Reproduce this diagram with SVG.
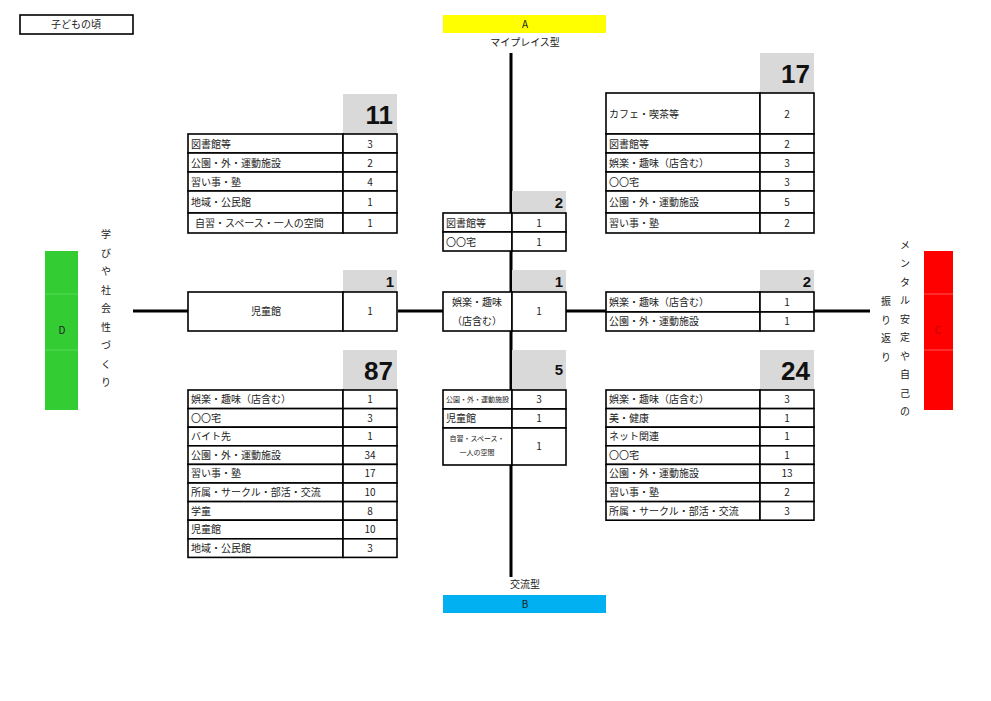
<svg xmlns="http://www.w3.org/2000/svg" width="991" height="701" viewBox="0 0 991 701">
<style>
text{font-family:"Noto Sans CJK JP",sans-serif;font-size:10px;fill:#222}
.c{text-anchor:middle}
.big{font-family:"Liberation Sans",sans-serif;font-weight:bold;font-size:26px;text-anchor:end;fill:#111}
.mid{font-family:"Liberation Sans",sans-serif;font-weight:bold;font-size:15px;text-anchor:end;fill:#111}
.hd{fill:#d9d9d9}
.cell{fill:#fff;stroke:#000;stroke-width:1.6}
.ax{stroke:#000;stroke-width:3;fill:none}
.sm{font-size:7px}
</style>
<rect width="991" height="701" fill="#fff"/>
<g id="title"><rect x="20" y="15" width="113" height="19" fill="#fff" stroke="#000" stroke-width="1.6"/><text x="76" y="28" class="c">子どもの頃</text></g>
<g id="connectors">
<line class="ax" x1="511" y1="53" x2="511" y2="577"/>
<line class="ax" x1="133" y1="311" x2="188" y2="311"/>
<line class="ax" x1="398" y1="311" x2="443" y2="311"/>
<line class="ax" x1="566" y1="311" x2="606" y2="311"/>
<line class="ax" x1="814" y1="311" x2="870" y2="311"/>
</g>
<g id="A"><rect x="443" y="15" width="163" height="18" fill="#ffff00"/><text x="525" y="28" class="c">A</text><text x="525" y="46" class="c">マイプレイス型</text></g>
<g id="B"><text x="525" y="588" class="c">交流型</text><rect x="443" y="595" width="163" height="18" fill="#00b0f0"/><text x="525" y="608" class="c">B</text></g>
<g id="D"><rect x="45" y="251" width="33" height="159" fill="#33cc33"/><line x1="45" y1="294" x2="78" y2="294" stroke="#5d5" stroke-width="1"/><line x1="45" y1="350" x2="78" y2="350" stroke="#5d5" stroke-width="1"/><text x="62" y="334" class="c">D</text>
<g class="c"><text x="106" y="238" class="c">学</text><text x="106" y="257" class="c">び</text><text x="106" y="275" class="c">や</text><text x="106" y="294" class="c">社</text><text x="106" y="312" class="c">会</text><text x="106" y="331" class="c">性</text><text x="106" y="349" class="c">づ</text><text x="106" y="368" class="c">く</text><text x="106" y="386" class="c">り</text></g></g>
<g id="C"><rect x="924" y="251" width="29" height="159" fill="#ff0000"/><line x1="924" y1="294" x2="953" y2="294" stroke="#f55" stroke-width="1"/><line x1="924" y1="350" x2="953" y2="350" stroke="#f55" stroke-width="1"/><text x="938" y="334" class="c" style="fill:#c00000">C</text>
<text x="905" y="249" class="c">メ</text><text x="905" y="267" class="c">ン</text><text x="905" y="286" class="c">タ</text><text x="905" y="304" class="c">ル</text><text x="905" y="323" class="c">安</text><text x="905" y="341" class="c">定</text><text x="905" y="360" class="c">や</text><text x="905" y="378" class="c">自</text><text x="905" y="397" class="c">己</text><text x="905" y="415" class="c">の</text>
<text x="886" y="305" class="c">振</text><text x="886" y="324" class="c">り</text><text x="886" y="342" class="c">返</text><text x="886" y="361" class="c">り</text></g>

<g id="t11">
<rect class="hd" x="343" y="94" width="54" height="40"/><text class="big" x="393" y="124">11</text>
<rect class="cell" x="188" y="134" width="155" height="19"/><rect class="cell" x="343" y="134" width="54" height="19"/><text x="191" y="148">図書館等</text><text x="370" y="148" class="c">3</text>
<rect class="cell" x="188" y="153" width="155" height="19"/><rect class="cell" x="343" y="153" width="54" height="19"/><text x="191" y="167">公園・外・運動施設</text><text x="370" y="167" class="c">2</text>
<rect class="cell" x="188" y="172" width="155" height="19"/><rect class="cell" x="343" y="172" width="54" height="19"/><text x="191" y="186">習い事・塾</text><text x="370" y="186" class="c">4</text>
<rect class="cell" x="188" y="191" width="155" height="22"/><rect class="cell" x="343" y="191" width="54" height="22"/><text x="191" y="206">地域・公民館</text><text x="370" y="206" class="c">1</text>
<rect class="cell" x="188" y="213" width="155" height="20"/><rect class="cell" x="343" y="213" width="54" height="20"/><text x="195" y="227">自習・スペース・一人の空間</text><text x="370" y="227" class="c">1</text>
</g>

<g id="t17">
<rect class="hd" x="760" y="53" width="54" height="40"/><text class="big" x="810" y="83">17</text>
<rect class="cell" x="606" y="93" width="154" height="41"/><rect class="cell" x="760" y="93" width="54" height="41"/><text x="609" y="118">カフェ・喫茶等</text><text x="787" y="118" class="c">2</text>
<rect class="cell" x="606" y="134" width="154" height="19"/><rect class="cell" x="760" y="134" width="54" height="19"/><text x="609" y="148">図書館等</text><text x="787" y="148" class="c">2</text>
<rect class="cell" x="606" y="153" width="154" height="19"/><rect class="cell" x="760" y="153" width="54" height="19"/><text x="609" y="167">娯楽・趣味（店含む）</text><text x="787" y="167" class="c">3</text>
<rect class="cell" x="606" y="172" width="154" height="19"/><rect class="cell" x="760" y="172" width="54" height="19"/><text x="609" y="186">〇〇宅</text><text x="787" y="186" class="c">3</text>
<rect class="cell" x="606" y="191" width="154" height="22"/><rect class="cell" x="760" y="191" width="54" height="22"/><text x="609" y="206">公園・外・運動施設</text><text x="787" y="206" class="c">5</text>
<rect class="cell" x="606" y="213" width="154" height="20"/><rect class="cell" x="760" y="213" width="54" height="20"/><text x="609" y="227">習い事・塾</text><text x="787" y="227" class="c">2</text>
</g>

<g id="t2top">
<rect class="hd" x="512" y="191" width="54" height="22"/><text class="mid" x="563" y="208">2</text>
<rect class="cell" x="443" y="213" width="69" height="19"/><rect class="cell" x="512" y="213" width="54" height="19"/><text x="446" y="227">図書館等</text><text x="539" y="227" class="c">1</text>
<rect class="cell" x="443" y="232" width="69" height="19"/><rect class="cell" x="512" y="232" width="54" height="19"/><text x="446" y="246">〇〇宅</text><text x="539" y="246" class="c">1</text>
</g>

<g id="t1left">
<rect class="hd" x="343" y="270" width="54" height="22"/><text class="mid" x="394" y="287">1</text>
<rect class="cell" x="188" y="292" width="155" height="39"/><rect class="cell" x="343" y="292" width="54" height="39"/><text x="266" y="315" class="c">児童館</text><text x="370" y="315" class="c">1</text>
</g>
<g id="t1center">
<rect class="hd" x="512" y="270" width="54" height="22"/><text class="mid" x="563" y="287">1</text>
<rect class="cell" x="443" y="292" width="69" height="39"/><rect class="cell" x="512" y="292" width="54" height="39"/><text x="477" y="306" class="c">娯楽・趣味</text><text x="477" y="325" class="c">（店含む）</text><text x="539" y="315" class="c">1</text>
</g>
<g id="t2right">
<rect class="hd" x="760" y="270" width="54" height="22"/><text class="mid" x="811" y="287">2</text>
<rect class="cell" x="606" y="292" width="154" height="20"/><rect class="cell" x="760" y="292" width="54" height="20"/><text x="609" y="306">娯楽・趣味（店含む）</text><text x="787" y="306" class="c">1</text>
<rect class="cell" x="606" y="312" width="154" height="19"/><rect class="cell" x="760" y="312" width="54" height="19"/><text x="609" y="325">公園・外・運動施設</text><text x="787" y="325" class="c">1</text>
</g>

<g id="t87">
<rect class="hd" x="343" y="350" width="54" height="40"/><text class="big" x="393" y="380">87</text>
<rect class="cell" x="188" y="390" width="155" height="18.6"/><rect class="cell" x="343" y="390" width="54" height="18.6"/><text x="191" y="403">娯楽・趣味（店含む）</text><text x="370" y="403" class="c">1</text>
<rect class="cell" x="188" y="408.6" width="155" height="18.6"/><rect class="cell" x="343" y="408.6" width="54" height="18.6"/><text x="191" y="422">〇〇宅</text><text x="370" y="422" class="c">3</text>
<rect class="cell" x="188" y="427.2" width="155" height="18.6"/><rect class="cell" x="343" y="427.2" width="54" height="18.6"/><text x="191" y="440">バイト先</text><text x="370" y="440" class="c">1</text>
<rect class="cell" x="188" y="445.8" width="155" height="18.6"/><rect class="cell" x="343" y="445.8" width="54" height="18.6"/><text x="191" y="459">公園・外・運動施設</text><text x="370" y="459" class="c">34</text>
<rect class="cell" x="188" y="464.4" width="155" height="18.6"/><rect class="cell" x="343" y="464.4" width="54" height="18.6"/><text x="191" y="477">習い事・塾</text><text x="370" y="477" class="c">17</text>
<rect class="cell" x="188" y="483" width="155" height="18.6"/><rect class="cell" x="343" y="483" width="54" height="18.6"/><text x="191" y="496">所属・サークル・部活・交流</text><text x="370" y="496" class="c">10</text>
<rect class="cell" x="188" y="501.6" width="155" height="18.6"/><rect class="cell" x="343" y="501.6" width="54" height="18.6"/><text x="191" y="515">学童</text><text x="370" y="515" class="c">8</text>
<rect class="cell" x="188" y="520.2" width="155" height="18.6"/><rect class="cell" x="343" y="520.2" width="54" height="18.6"/><text x="191" y="533">児童館</text><text x="370" y="533" class="c">10</text>
<rect class="cell" x="188" y="538.8" width="155" height="18.6"/><rect class="cell" x="343" y="538.8" width="54" height="18.6"/><text x="191" y="552">地域・公民館</text><text x="370" y="552" class="c">3</text>
</g>

<g id="t5">
<rect class="hd" x="512" y="350" width="54" height="40"/><text class="mid" x="563" y="375">5</text>
<rect class="cell" x="443" y="390" width="69" height="19"/><rect class="cell" x="512" y="390" width="54" height="19"/><text x="446" y="402" class="sm">公園・外・運動施設</text><text x="539" y="403" class="c">3</text>
<rect class="cell" x="443" y="409" width="69" height="19"/><rect class="cell" x="512" y="409" width="54" height="19"/><text x="446" y="422">児童館</text><text x="539" y="422" class="c">1</text>
<rect class="cell" x="443" y="428" width="69" height="37"/><rect class="cell" x="512" y="428" width="54" height="37"/><text x="477" y="441" class="c sm">自習・スペース・</text><text x="477" y="455" class="c sm">一人の空間</text><text x="539" y="450" class="c">1</text>
</g>

<g id="t24">
<rect class="hd" x="760" y="350" width="54" height="40"/><text class="big" x="810" y="380">24</text>
<rect class="cell" x="606" y="390" width="154" height="18.6"/><rect class="cell" x="760" y="390" width="54" height="18.6"/><text x="609" y="403">娯楽・趣味（店含む）</text><text x="787" y="403" class="c">3</text>
<rect class="cell" x="606" y="408.6" width="154" height="18.6"/><rect class="cell" x="760" y="408.6" width="54" height="18.6"/><text x="609" y="422">美・健康</text><text x="787" y="422" class="c">1</text>
<rect class="cell" x="606" y="427.2" width="154" height="18.6"/><rect class="cell" x="760" y="427.2" width="54" height="18.6"/><text x="609" y="440">ネット関連</text><text x="787" y="440" class="c">1</text>
<rect class="cell" x="606" y="445.8" width="154" height="18.6"/><rect class="cell" x="760" y="445.8" width="54" height="18.6"/><text x="609" y="459">〇〇宅</text><text x="787" y="459" class="c">1</text>
<rect class="cell" x="606" y="464.4" width="154" height="18.6"/><rect class="cell" x="760" y="464.4" width="54" height="18.6"/><text x="609" y="477">公園・外・運動施設</text><text x="787" y="477" class="c">13</text>
<rect class="cell" x="606" y="483" width="154" height="18.6"/><rect class="cell" x="760" y="483" width="54" height="18.6"/><text x="609" y="496">習い事・塾</text><text x="787" y="496" class="c">2</text>
<rect class="cell" x="606" y="501.6" width="154" height="18.6"/><rect class="cell" x="760" y="501.6" width="54" height="18.6"/><text x="609" y="515">所属・サークル・部活・交流</text><text x="787" y="515" class="c">3</text>
</g>
</svg>
